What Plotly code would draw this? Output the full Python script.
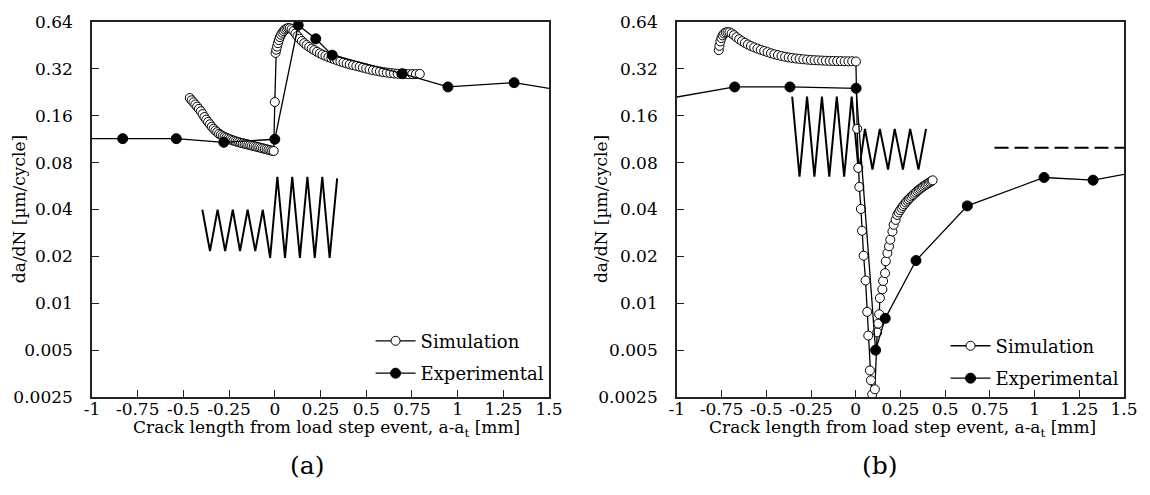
import math
import plotly.graph_objects as go

# ---------------- data ----------------
# Panel (a): simulation (open circles)
sim_a_x = [-0.465, -0.455, -0.445, -0.435, -0.425, -0.415, -0.405, -0.395, -0.385, -0.375,
           -0.365, -0.355, -0.345, -0.335, -0.325, -0.315, -0.305, -0.295, -0.285, -0.275,
           -0.265, -0.255, -0.245, -0.235, -0.225, -0.215, -0.205, -0.195, -0.185, -0.175,
           -0.165, -0.155, -0.145, -0.135, -0.125, -0.115, -0.105, -0.095, -0.085, -0.075,
           -0.065, -0.055, -0.045, -0.035, -0.025, -0.015, -0.006,
           0.000, 0.004, 0.008, 0.012, 0.017, 0.022, 0.028, 0.034, 0.041, 0.048,
           0.056, 0.064, 0.073, 0.082, 0.092, 0.102, 0.113, 0.124, 0.136, 0.148,
           0.161, 0.174, 0.188, 0.202, 0.216, 0.231, 0.246, 0.261, 0.277, 0.293,
           0.309, 0.325, 0.342, 0.359, 0.376, 0.393, 0.410, 0.428, 0.446, 0.464,
           0.482, 0.500, 0.518, 0.537, 0.556, 0.575, 0.594, 0.613, 0.632, 0.652,
           0.672, 0.692, 0.712, 0.732, 0.752, 0.772, 0.793]
sim_a_y = [0.208, 0.201, 0.195, 0.189, 0.183, 0.177, 0.171, 0.164, 0.157, 0.151,
           0.146, 0.141, 0.136, 0.132, 0.1285, 0.1255, 0.1225, 0.1205, 0.1185, 0.117,
           0.1155, 0.1142, 0.113, 0.1118, 0.1107, 0.1097, 0.1088, 0.108, 0.1072, 0.1065,
           0.1058, 0.1051, 0.1044, 0.1037, 0.103, 0.1023, 0.1016, 0.1009, 0.1002, 0.0995,
           0.0988, 0.0981, 0.0974, 0.0967, 0.096, 0.0955, 0.0950,
           0.196, 0.405, 0.425, 0.445, 0.468, 0.490, 0.512, 0.530, 0.546, 0.560,
           0.572, 0.580, 0.585, 0.584, 0.575, 0.560, 0.540, 0.520, 0.500, 0.483,
           0.468, 0.455, 0.443, 0.432, 0.422, 0.412, 0.403, 0.395, 0.388, 0.381,
           0.375, 0.369, 0.363, 0.357, 0.352, 0.347, 0.342, 0.338, 0.334, 0.330,
           0.326, 0.322, 0.318, 0.314, 0.311, 0.308, 0.305, 0.303, 0.301, 0.299,
           0.298, 0.297, 0.297, 0.296, 0.296, 0.296, 0.297]

# Panel (a): experimental (filled circles); first/last points lie outside the axis range
exp_a_x = [-1.15, -0.832, -0.539, -0.279, 0.0, 0.128, 0.224, 0.314, 0.697, 0.947, 1.309, 1.66]
exp_a_y = [0.114, 0.114, 0.114, 0.108, 0.113, 0.61, 0.499, 0.392, 0.298, 0.245, 0.261, 0.224]

# Panel (b): simulation (open circles)
sim_b_x = [-0.766, -0.762, -0.757, -0.751, -0.744, -0.736, -0.727, -0.717, -0.706, -0.694,
           -0.681, -0.667, -0.652, -0.636, -0.620, -0.603, -0.586, -0.568, -0.550, -0.531,
           -0.512, -0.493, -0.474, -0.455, -0.435, -0.415, -0.395, -0.375, -0.355, -0.335,
           -0.314, -0.293, -0.272, -0.251, -0.230, -0.209, -0.188, -0.167, -0.146, -0.125,
           -0.104, -0.083, -0.062, -0.041, -0.020, 0.001,
           0.008, 0.014, 0.020, 0.029, 0.035, 0.044, 0.055, 0.064, 0.070, 0.079,
           0.085, 0.092, 0.107, 0.120, 0.125, 0.131, 0.135, 0.149, 0.153, 0.164,
           0.168, 0.177, 0.186, 0.193, 0.205, 0.212, 0.223, 0.232, 0.240, 0.248,
           0.256, 0.264, 0.272, 0.280, 0.288, 0.296, 0.304, 0.312, 0.320, 0.328,
           0.336, 0.344, 0.352, 0.360, 0.368, 0.376, 0.384, 0.392, 0.400, 0.408,
           0.416, 0.424, 0.430]
sim_b_y = [0.422, 0.450, 0.480, 0.505, 0.525, 0.540, 0.548, 0.551, 0.550, 0.541,
           0.527, 0.511, 0.496, 0.482, 0.470, 0.459, 0.449, 0.440, 0.432, 0.424,
           0.417, 0.410, 0.403, 0.397, 0.392, 0.387, 0.383, 0.379, 0.376, 0.373,
           0.371, 0.369, 0.367, 0.365, 0.364, 0.363, 0.362, 0.361, 0.360, 0.360,
           0.359, 0.359, 0.358, 0.358, 0.358, 0.357,
           0.132, 0.074, 0.0559, 0.0403, 0.0292, 0.0202, 0.014, 0.0088, 0.0062, 0.0037,
           0.0032, 0.0026, 0.0028, 0.0065, 0.0074, 0.0085, 0.0108, 0.0123, 0.0139, 0.0156,
           0.0186, 0.021, 0.0232, 0.0256, 0.0289, 0.0319, 0.0343, 0.0369, 0.0383, 0.0396,
           0.0409, 0.0421, 0.0432, 0.0444, 0.0455, 0.0465, 0.0475, 0.0485, 0.0495, 0.0505,
           0.0515, 0.0525, 0.0534, 0.0543, 0.0552, 0.056, 0.0569, 0.0577, 0.0585, 0.0593,
           0.0601, 0.0609, 0.0616]

# Panel (b): experimental (filled circles); first/last points lie outside the axis range
exp_b_x = [-1.15, -0.677, -0.368, 0.002, 0.111, 0.165, 0.337, 0.624, 1.053, 1.327, 1.65]
exp_b_y = [0.197, 0.245, 0.245, 0.240, 0.005, 0.008, 0.0188, 0.0422, 0.0642, 0.0617, 0.0726]

# Panel (b): dashed reference level
ref_b_x = [0.776, 1.5]
ref_b_y = [0.0995, 0.0995]

# Axes
y_ticks = [0.0025, 0.005, 0.01, 0.02, 0.04, 0.08, 0.16, 0.32, 0.64]
y_tick_labels = ["0.0025", "0.005", "0.01", "0.02", "0.04", "0.08", "0.16", "0.32", "0.64"]
x_ticks = [-1, -0.75, -0.5, -0.25, 0, 0.25, 0.5, 0.75, 1, 1.25, 1.5]
x_tick_labels = ["-1", "-0.75", "-0.5", "-0.25", "0", "0.25", "0.5", "0.75", "1", "1.25", "1.5"]

x_title = "Crack length from load step event, a-a<sub>t</sub> [mm]"
y_title = "da/dN [µm/cycle]"
legend_names = ["Simulation", "Experimental"]
panel_labels = ["(a)", "(b)"]

# ---------------- layout geometry (pixels) ----------------
W, H = 1150, 495
ML, MR, MT, MB = 92, 17, 19, 98
PW = W - ML - MR
PH = H - MT - MB
FONT = "DejaVu Serif"


def px(x):
    return (x - ML) / PW


def py(y):
    return (H - MB - y) / PH


# decorative load-history zigzags (pixel polylines)
zig_a = [(203.3, 208.3), (211, 250), (218.7, 208.3), (226.3, 250), (234, 208.3), (241.3, 250),
         (249, 208.3), (256.7, 250), (264.3, 208.3), (271.7, 256.7), (279, 175), (286.7, 256.7),
         (294, 175), (301.7, 256.7), (309.3, 175), (316.7, 256.7), (324.3, 175), (331.7, 256.7),
         (339.3, 176.7)]
zig_b = [(798.3, 94.3), (805.7, 175), (813.3, 94.3), (820.7, 175), (828.3, 94.3), (835.7, 175),
         (843.3, 94.3), (850.7, 175), (858.3, 94.3), (865.5, 170), (871.7, 126.7), (879.3, 167.7),
         (886.7, 126.7), (895, 167.7), (901.7, 126.7), (910, 167.7), (917.3, 126.7), (925.7, 167.7),
         (933.3, 126.7)]


def path_of(pts):
    return "M" + " L".join(f"{px(a):.5f},{py(b):.5f}" for a, b in pts)


fig = go.Figure()

sim_marker = dict(symbol="circle", size=9, color="white", line=dict(color="black", width=1))
exp_marker = dict(symbol="circle", size=10, color="black", line=dict(color="black", width=1))
line_style = dict(color="black", width=1.3)

# dashed level in (b)
fig.add_trace(go.Scatter(x=ref_b_x, y=ref_b_y, mode="lines", xaxis="x2", yaxis="y2",
                         line=dict(color="black", width=2, dash="14px,6px"), showlegend=False,
                         hoverinfo="skip"))

fig.add_trace(go.Scatter(x=sim_a_x, y=sim_a_y, mode="lines+markers", name=legend_names[0],
                         marker=sim_marker, line=line_style, xaxis="x", yaxis="y",
                         legend="legend", legendgroup="s1"))
fig.add_trace(go.Scatter(x=exp_a_x, y=exp_a_y, mode="lines+markers", name=legend_names[1],
                         marker=exp_marker, line=line_style, xaxis="x", yaxis="y",
                         legend="legend", legendgroup="e1"))
fig.add_trace(go.Scatter(x=sim_b_x, y=sim_b_y, mode="lines+markers", name=legend_names[0],
                         marker=sim_marker, line=line_style, xaxis="x2", yaxis="y2",
                         legend="legend2", legendgroup="s2"))
fig.add_trace(go.Scatter(x=exp_b_x, y=exp_b_y, mode="lines+markers", name=legend_names[1],
                         marker=exp_marker, line=line_style, xaxis="x2", yaxis="y2",
                         legend="legend2", legendgroup="e2"))

TICKFONT = dict(family=FONT, size=17, color="black")
axis_common = dict(showgrid=False, zeroline=False, showline=True, linecolor="#222",
                   linewidth=1.5, mirror=True, ticks="inside", ticklen=7, tickwidth=1.3,
                   tickcolor="#222", tickfont=TICKFONT)
xaxis_common = dict(axis_common, range=[-1, 1.5], tickmode="array", tickvals=x_ticks,
                    ticktext=x_tick_labels, ticklabelstandoff=-4)
yaxis_common = dict(axis_common, type="log", range=[math.log10(0.0025), math.log10(0.64)],
                    tickmode="array", tickvals=y_ticks, ticktext=y_tick_labels,
                    ticklabelstandoff=14)

legend_common = dict(xanchor="left", yanchor="top", bgcolor="rgba(0,0,0,0)",
                     font=dict(family=FONT, size=18, color="black"), itemwidth=40,
                     traceorder="grouped", tracegroupgap=6)

TITLEFONT = dict(family=FONT, size=17, color="black")

fig.update_layout(
    width=W, height=H,
    margin=dict(l=ML, r=MR, t=MT, b=MB),
    paper_bgcolor="white", plot_bgcolor="white",
    font=dict(family=FONT, color="black"),
    xaxis=dict(xaxis_common, domain=[0, px(553)], anchor="y"),
    yaxis=dict(yaxis_common, domain=[0, 1], anchor="x"),
    xaxis2=dict(xaxis_common, domain=[px(682), 1], anchor="y2"),
    yaxis2=dict(yaxis_common, domain=[0, 1], anchor="x2"),
    legend=dict(legend_common, x=px(373), y=py(322)),
    legend2=dict(legend_common, x=px(953), y=py(327)),
    shapes=[
        dict(type="path", path=path_of(zig_a), xref="paper", yref="paper",
             line=dict(color="black", width=2), layer="below"),
        dict(type="path", path=path_of(zig_b), xref="paper", yref="paper",
             line=dict(color="black", width=2), layer="below"),
    ],
    annotations=[
        dict(text=y_title, textangle=-90, x=px(18), y=0.5, xref="paper", yref="paper",
             showarrow=False, xanchor="center", yanchor="middle", font=TITLEFONT),
        dict(text=y_title, textangle=-90, x=px(605), y=0.5, xref="paper", yref="paper",
             showarrow=False, xanchor="center", yanchor="middle", font=TITLEFONT),
        dict(text=x_title, x=px(329), y=py(429), xref="paper", yref="paper",
             showarrow=False, xanchor="center", yanchor="middle", font=TITLEFONT),
        dict(text=x_title, x=px(910), y=py(429), xref="paper", yref="paper",
             showarrow=False, xanchor="center", yanchor="middle", font=TITLEFONT),
        dict(text=panel_labels[0], x=px(309), y=py(466), xref="paper", yref="paper",
             showarrow=False, xanchor="center", yanchor="middle",
             font=dict(family=FONT, size=25, color="black")),
        dict(text=panel_labels[1], x=px(887), y=py(466), xref="paper", yref="paper",
             showarrow=False, xanchor="center", yanchor="middle",
             font=dict(family=FONT, size=25, color="black")),
    ],
)

fig.write_html("out.html")
